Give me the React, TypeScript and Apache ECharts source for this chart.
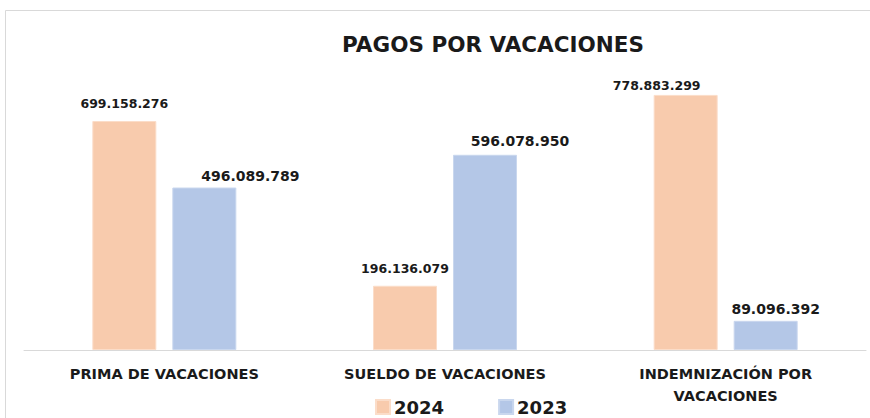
import React, { useEffect, useRef } from "react";
import * as echarts from "echarts";

const categories = ["PRIMA DE VACACIONES", "SUELDO DE VACACIONES", "INDEMNIZACIÓN POR\nVACACIONES"];
const values2024 = [699158276, 196136079, 778883299];
const values2023 = [496089789, 596078950, 89096392];
const seriesNames = ["2024", "2023"];
const labelOffsets2024 = [[0, -5], [0, -5], [-29, 3]];
const labelOffsets2023 = [[46, 0], [35, -2], [10, 0]];

const fmt = (v: number) => String(v).replace(/\B(?=(\d{3})+(?!\d))/g, ".");

export default function App() {
  const ref = useRef<HTMLDivElement>(null);
  useEffect(() => {
    const chart = echarts.init(ref.current!, undefined, { renderer: "svg" });
    chart.setOption({
      animation: false,
      backgroundColor: "#fff",
      title: {
        text: "PAGOS POR VACACIONES",
        left: 488,
        top: 28,
        textAlign: "center",
        textStyle: { fontFamily: "DejaVu Sans", fontSize: 21.5, fontWeight: "bold", color: "#1a1a1a" },
      },
      graphic: [
        {
          type: "rect",
          shape: { x: 5.5, y: 10.5, width: 900, height: 500 },
          style: { fill: "none", stroke: "#d9d9d9", lineWidth: 1 },
          silent: true,
        },
      ],
      legend: {
        top: 398,
        left: 375,
        padding: 0,
        itemWidth: 14,
        itemHeight: 14,
        itemGap: 54,
        icon: "rect",
        textStyle: { fontFamily: "DejaVu Sans", fontSize: 18, fontWeight: "bold", color: "#1a1a1a", padding: [0, 0, 0, -1] },
        data: seriesNames,
      },
      grid: { left: 24, right: 4, top: 88, bottom: 68, containLabel: false },
      xAxis: {
        type: "category",
        data: categories,
        axisLine: { lineStyle: { color: "#d9d9d9", width: 1 } },
        axisTick: { show: false },
        axisLabel: {
          interval: 0,
          margin: 13,
          lineHeight: 22,
          fontFamily: "DejaVu Sans",
          fontSize: 14.5,
          fontWeight: "bold",
          color: "#1a1a1a",
        },
      },
      yAxis: {
        type: "value",
        min: 0,
        max: 800000000,
        show: false,
        splitLine: { show: false },
      },
      series: [
        {
          name: seriesNames[0],
          type: "bar",
          barWidth: 64,
          barGap: "25%",
          itemStyle: { color: "#F8CBAD", borderColor: "#FBDDC9", borderWidth: 1 },
          data: values2024.map((v, i) => ({
            value: v,
            label: { offset: labelOffsets2024[i] },
          })),
          label: {
            show: true,
            position: "top",
            distance: 6,
            formatter: (p: any) => fmt(p.value),
            fontFamily: "DejaVu Sans",
            fontSize: 12.5,
            fontWeight: "bold",
            color: "#1a1a1a",
          },
        },
        {
          name: seriesNames[1],
          type: "bar",
          barWidth: 64,
          itemStyle: { color: "#B4C7E7", borderColor: "#C9D7EE", borderWidth: 1 },
          data: values2023.map((v, i) => ({
            value: v,
            label: { offset: labelOffsets2023[i] },
          })),
          label: {
            show: true,
            position: "top",
            distance: 5,
            formatter: (p: any) => fmt(p.value),
            fontFamily: "DejaVu Sans",
            fontSize: 14,
            fontWeight: "bold",
            color: "#1a1a1a",
          },
        },
      ],
    });
    return () => chart.dispose();
  }, []);
  return <div ref={ref} style={{ width: 870, height: 418, position: "absolute", left: 0, top: 0 }} />;
}
